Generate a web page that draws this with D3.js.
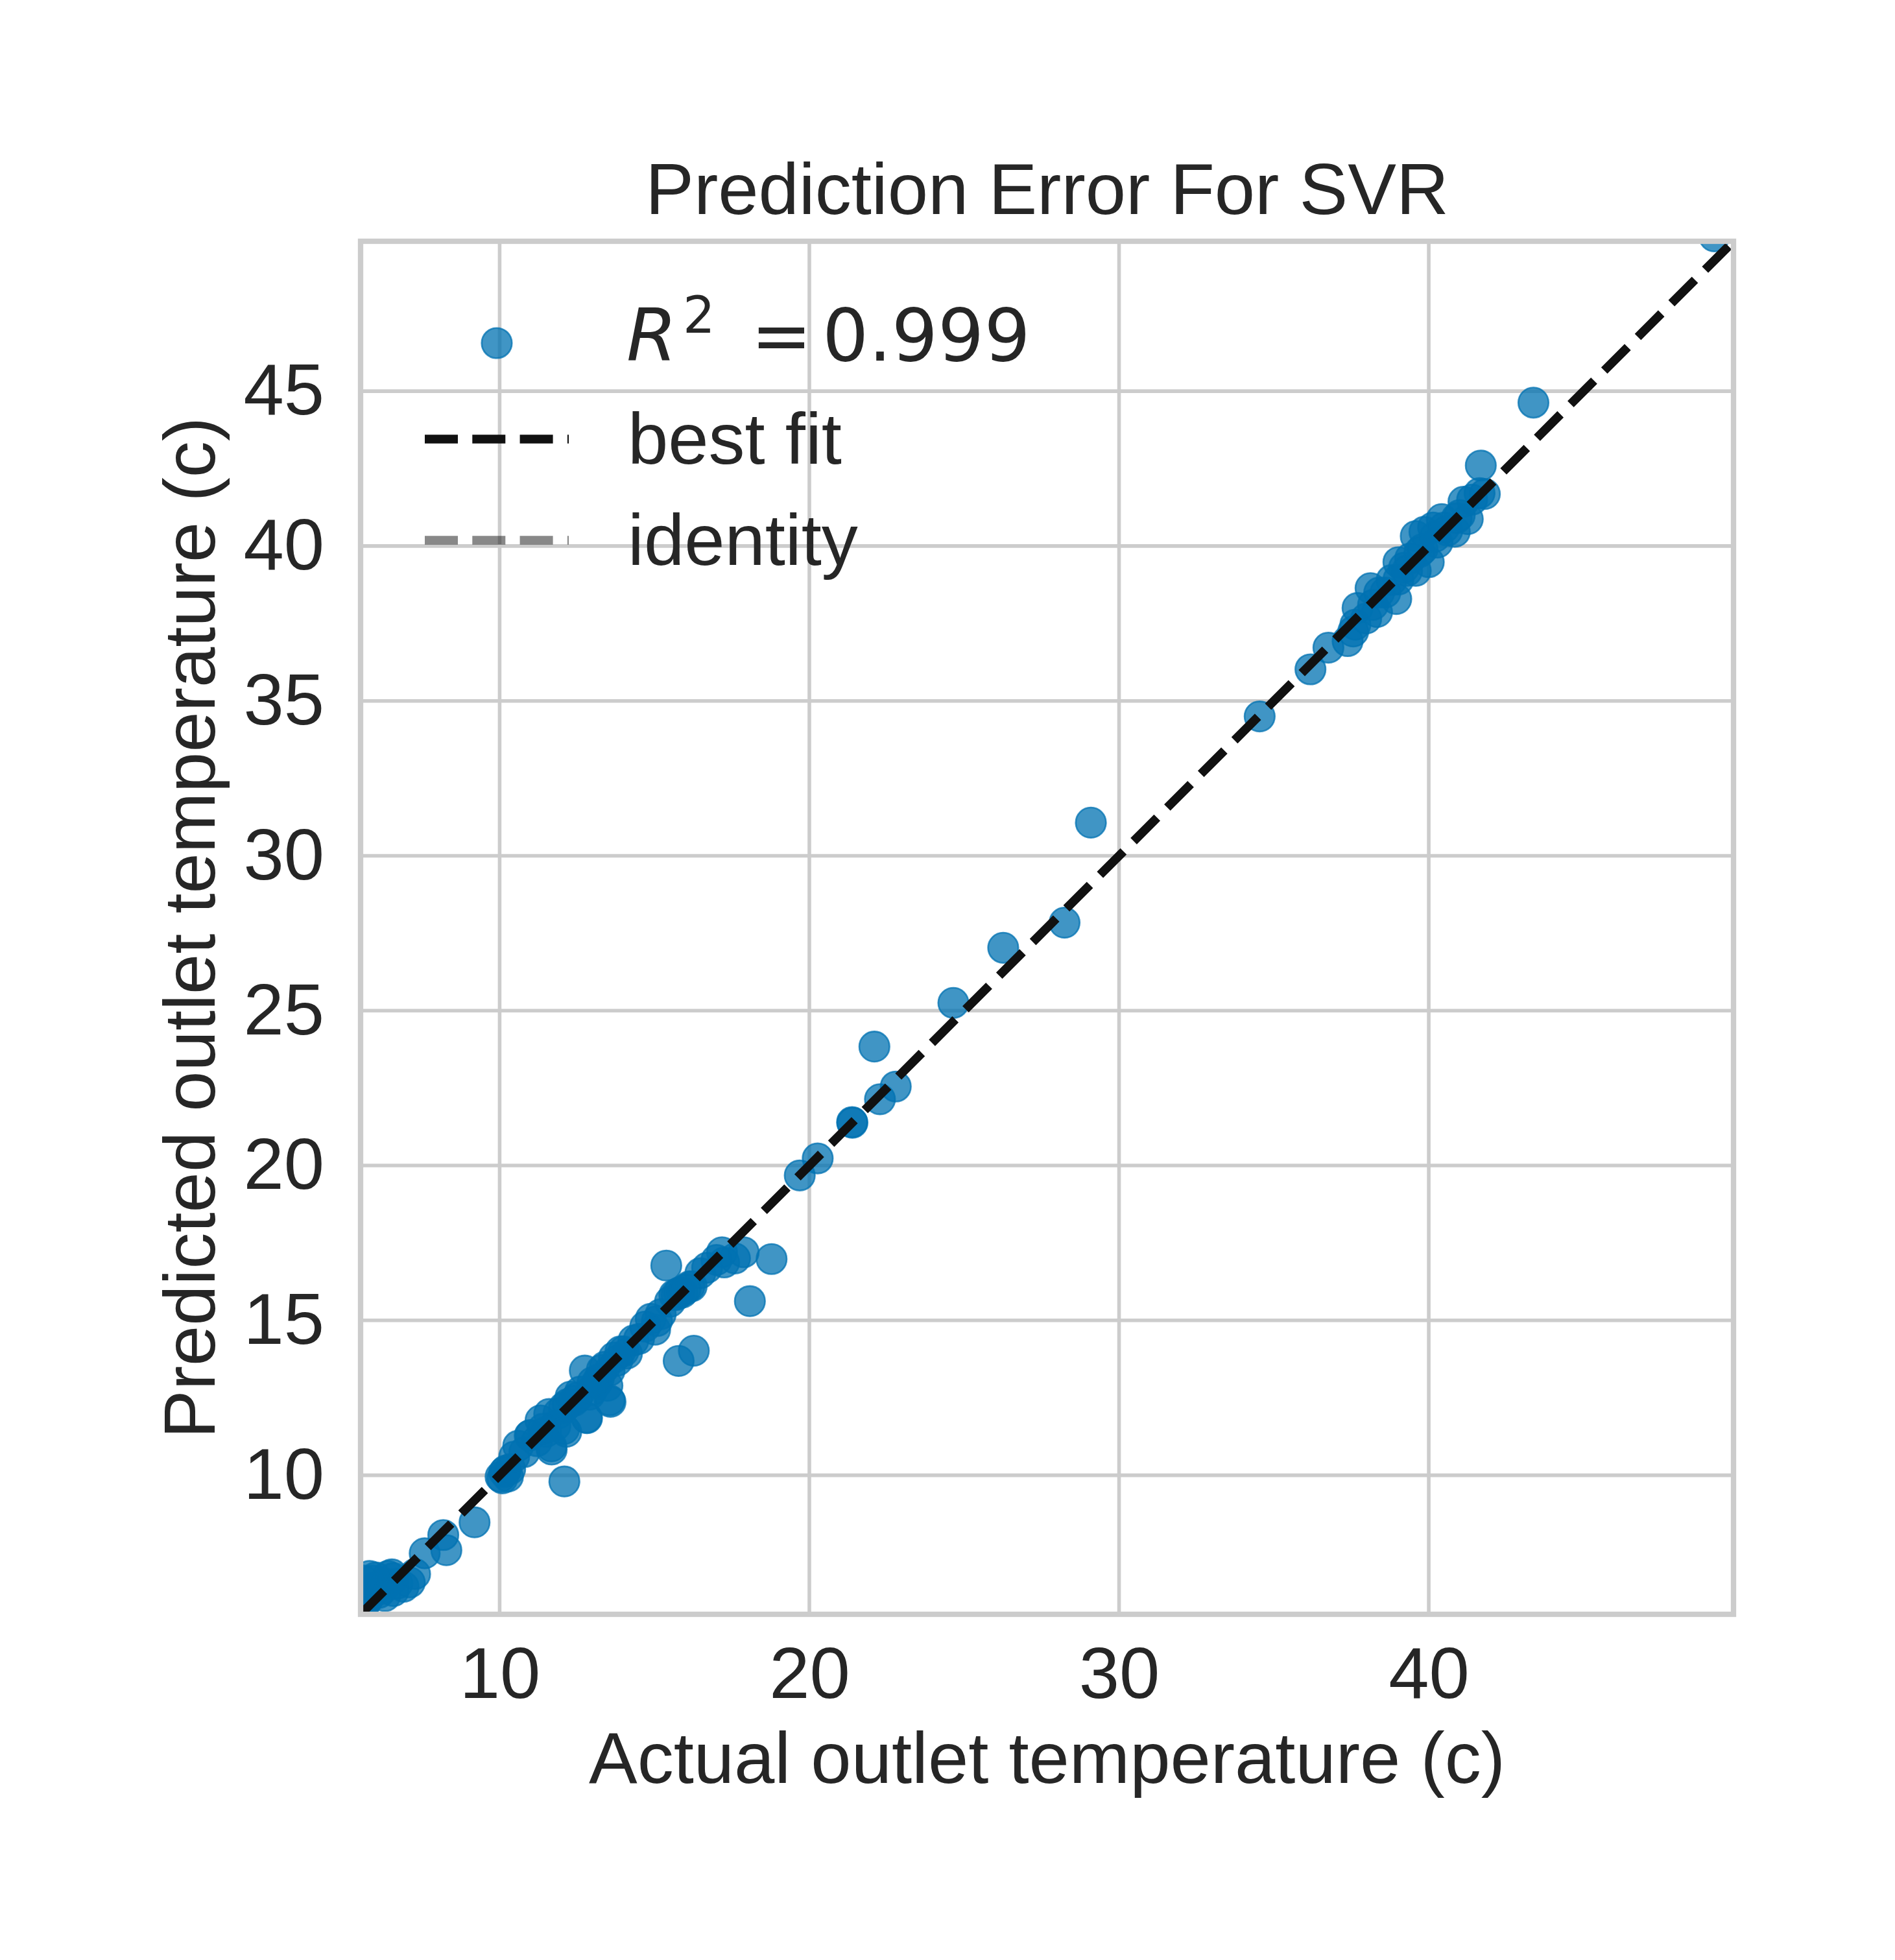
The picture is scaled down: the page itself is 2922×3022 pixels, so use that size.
<!DOCTYPE html>
<html><head><meta charset="utf-8">
<script src="https://cdn.jsdelivr.net/npm/d3@7/dist/d3.min.js"></script>
<style>body{margin:0;background:#fff}</style>
</head><body>
<script>
// ---- data ----
const actual = [
  5.55,5.62,5.7,5.73,5.8,5.87,5.9,6.0,6.1,6.22,6.3,6.4,6.52,6.57,6.57,6.7,6.9,7.1,7.27,7.58,8.18,8.28,9.19,
  5.6,6.0,6.3,
  10.03,10.09,10.15,10.2,10.27,10.34,10.47,10.6,10.8,10.97,11.0,11.2,11.32,11.5,11.6,11.67,11.68,11.8,11.9,
  12.08,12.08,12.09,12.15,12.2,12.29,12.5,12.6,12.75,12.81,12.82,12.9,12.99,13.13,13.2,13.3,13.48,13.55,13.55,
  13.58,13.69,13.8,14.0,14.11,14.32,14.5,14.88,15.02,15.08,15.2,15.38,15.5,15.64,15.71,15.78,15.9,16.13,16.2,
  16.27,16.48,16.7,17.0,17.18,17.25,17.6,17.88,18.08,18.78,
  11.4,12.4,13.0,13.4,13.9,14.7,15.8,16.0,
  19.69,20.27,21.38,21.39,22.1,22.28,22.79,24.65,26.26,28.24,29.09,34.54,
  36.18,36.76,37.38,37.56,37.63,37.7,37.98,38.12,38.33,38.4,38.6,38.95,39.02,39.02,39.2,39.4,39.58,39.58,39.8,
  39.86,40.0,40.14,40.28,40.42,40.6,40.84,41.0,41.12,41.26,41.64,41.81,41.68,43.38,49.22,
  38.2,38.8,39.3,39.7,40.2,40.5,40.9,41.4
];
const predicted = [
  5.6,5.8,6.0,5.98,6.75,6.19,6.6,6.4,6.2,6.33,6.5,6.75,6.8,6.68,6.26,6.5,6.4,6.54,6.81,7.48,8.07,7.58,8.48,
  6.6,6.7,6.1,
  9.95,9.9,10.1,10.15,9.96,10.2,10.6,10.95,10.75,11.28,11.3,11.1,11.77,11.4,11.98,10.93,10.83,11.6,12.0,
  12.19,11.49,9.8,11.4,12.3,12.54,12.5,12.7,13.38,11.86,11.84,12.6,12.75,12.96,13.1,13.4,12.89,13.38,12.42,
  12.37,13.8,13.7,14.0,13.93,14.35,14.4,15.05,14.7,14.98,15.2,16.77,15.6,15.82,15.82,13.69,15.9,16.1,16.1,
  14.02,16.52,16.7,16.95,17.2,16.87,17.0,17.2,15.62,16.98,
  11.5,12.4,13.0,13.5,14.0,14.8,15.9,16.0,
  19.68,20.23,21.4,21.38,23.84,22.14,22.55,25.25,27.03,27.84,31.07,34.5,
  36.02,36.72,36.93,37.24,37.46,38.0,37.66,38.64,37.87,38.5,38.5,38.29,38.92,39.48,39.3,39.6,39.2,40.32,39.9,
  40.46,39.48,40.6,40.11,40.87,40.5,40.46,41.0,41.43,40.87,41.71,41.68,42.6,44.63,50.0,
  38.1,38.9,39.2,39.8,40.3,40.6,40.9,41.5
];
const axisLimits = [5.51, 49.84];
const xTicks = [10, 20, 30, 40];
const yTicks = [10, 15, 20, 25, 30, 35, 40, 45];
const bestFit = [1.0, 0.0];          // slope, intercept
const r2Value = "0.999";
const titleText = "Prediction Error For SVR";
const xLabelText = "Actual outlet temperature (c)";
const yLabelText = "Predicted outlet temperature (c)";
const legendLabels = ["best fit", "identity"];

// ---- layout ----
const W = 2922, H = 3022;
const L = 556, R = 2673, T = 372, B = 2489;
const FONT = "'Liberation Sans', Arial, sans-serif";
const TXT = "#262626";
const PT = "#0072B2";
const DASH = "51,22.3";

const svg = d3.select("body").append("svg")
  .attr("width", W).attr("height", H).attr("viewBox", `0 0 ${W} ${H}`)
  .style("background", "#fff");

const x = d3.scaleLinear().domain(axisLimits).range([L, R]);
const y = d3.scaleLinear().domain(axisLimits).range([B, T]);

svg.append("defs").append("clipPath").attr("id", "plotclip")
  .append("rect").attr("x", L).attr("y", T).attr("width", R - L).attr("height", B - T);

// grid
const grid = svg.append("g");
grid.selectAll("line.vx").data(xTicks).join("line")
  .attr("x1", d => x(d)).attr("x2", d => x(d)).attr("y1", T).attr("y2", B)
  .attr("stroke", "#cccccc").attr("stroke-width", 5.6);
grid.selectAll("line.hy").data(yTicks).join("line")
  .attr("y1", d => y(d)).attr("y2", d => y(d)).attr("x1", L).attr("x2", R)
  .attr("stroke", "#cccccc").attr("stroke-width", 5.6);

// points
const pts = d3.zip(actual, predicted);
svg.append("g").attr("clip-path", "url(#plotclip)")
  .selectAll("circle").data(pts).join("circle")
  .attr("cx", d => x(d[0])).attr("cy", d => y(d[1])).attr("r", 23.3)
  .attr("fill", PT).attr("fill-opacity", 0.75)
  .attr("stroke", PT).attr("stroke-opacity", 0.75).attr("stroke-width", 2.6);

// lines
const lineG = svg.append("g").attr("clip-path", "url(#plotclip)");
const line = d3.line().x(d => x(d[0])).y(d => y(d[1]));
lineG.append("path")
  .attr("d", line([[axisLimits[0], axisLimits[0]], [axisLimits[1], axisLimits[1]]]))
  .attr("fill", "none").attr("stroke", "#111111").attr("stroke-opacity", 0.5)
  .attr("stroke-width", 13.5).attr("stroke-dasharray", DASH);
lineG.append("path")
  .attr("d", line(axisLimits.map(v => [v, bestFit[0] * v + bestFit[1]])))
  .attr("fill", "none").attr("stroke", "#111111")
  .attr("stroke-width", 13.5).attr("stroke-dasharray", DASH);

// spines
svg.append("rect").attr("x", L).attr("y", T).attr("width", R - L).attr("height", B - T)
  .attr("fill", "none").attr("stroke", "#cccccc").attr("stroke-width", 8.3);

// axes
const xa = svg.append("g").attr("transform", `translate(0,${B})`)
  .call(d3.axisBottom(x).tickValues(xTicks).tickSize(0).tickPadding(49).tickFormat(d3.format("d")));
const ya = svg.append("g").attr("transform", `translate(${L},0)`)
  .call(d3.axisLeft(y).tickValues(yTicks).tickSize(0).tickPadding(56).tickFormat(d3.format("d")));
[xa, ya].forEach(a => {
  a.select(".domain").remove();
  a.selectAll("text").attr("font-family", FONT).attr("font-size", 112).attr("fill", TXT);
});

// title & labels
svg.append("text").attr("x", (L + R) / 2).attr("y", 330).attr("text-anchor", "middle")
  .attr("font-family", FONT).attr("font-size", 112).attr("fill", TXT).text(titleText);
svg.append("text").attr("x", (L + R) / 2).attr("y", 2749).attr("text-anchor", "middle")
  .attr("font-family", FONT).attr("font-size", 112).attr("fill", TXT).text(xLabelText);
svg.append("text").attr("transform", `translate(331,${(T + B) / 2}) rotate(-90)`)
  .attr("text-anchor", "middle")
  .attr("font-family", FONT).attr("font-size", 112).attr("fill", TXT).text(yLabelText);

// legend
const lg = svg.append("g");
lg.append("circle").attr("cx", 766).attr("cy", 529).attr("r", 23.3)
  .attr("fill", PT).attr("fill-opacity", 0.75)
  .attr("stroke", PT).attr("stroke-opacity", 0.75).attr("stroke-width", 2.6);
const MATH = "'DejaVu Sans', sans-serif";
lg.append("text").attr("x", 966).attr("y", 556).attr("font-family", MATH)
  .attr("font-style", "italic").attr("font-size", 112).attr("fill", TXT).text("R");
lg.append("text").attr("x", 1053).attr("y", 513).attr("font-family", MATH)
  .attr("font-size", 78).attr("fill", TXT).text("2");
lg.append("text").attr("x", 1158).attr("y", 556).attr("font-family", MATH)
  .attr("font-size", 112).attr("fill", TXT).text("=");
lg.append("text").attr("x", 1268).attr("y", 556).attr("font-family", MATH)
  .attr("font-size", 112).attr("fill", TXT).text(r2Value);
const legendLines = [{y: 677, c: "#111111", o: 1}, {y: 833, c: "#111111", o: 0.5}];
legendLines.forEach((d, i) => {
  lg.append("line").attr("x1", 655).attr("x2", 877).attr("y1", d.y).attr("y2", d.y)
    .attr("stroke", d.c).attr("stroke-opacity", d.o).attr("stroke-width", 13.5)
    .attr("stroke-dasharray", DASH);
  lg.append("text").attr("x", 968).attr("y", d.y + 38).attr("font-family", FONT)
    .attr("font-size", 112).attr("fill", TXT).text(legendLabels[i]);
});
</script>
</body></html>
